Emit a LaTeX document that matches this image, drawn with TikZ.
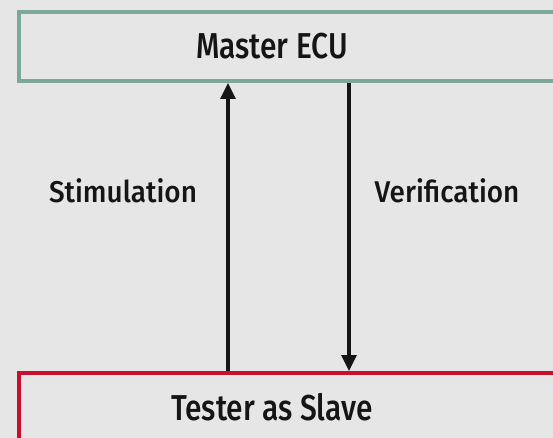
\documentclass[tikz,border=0pt]{standalone}
\usepackage{fontspec}
\setmainfont{Fira Sans Medium}
\newfontfamily\titlefont{Fira Sans Medium}[FakeStretch=0.83]
\newfontfamily\lblfont{Fira Sans Medium}[FakeStretch=0.93]
\usetikzlibrary{arrows.meta}
\definecolor{bg}{HTML}{E6E6E6}
\definecolor{mgreen}{HTML}{7DA898}
\definecolor{sred}{HTML}{C8102E}
\definecolor{ink}{HTML}{151515}
\tikzset{
  boxstyle/.style={draw, line width=4pt, fill=bg, anchor=north west, inner sep=0pt},
  title/.style={text=ink, font=\titlefont\fontsize{36}{40}\selectfont, inner sep=0pt},
  lbl/.style={text=ink, font=\lblfont\fontsize{30}{34}\selectfont, inner sep=0pt},
  arr/.style={draw=ink, line width=3.2pt, -{Triangle[length=16pt,width=15pt]}}
}
\begin{document}
\begin{tikzpicture}[x=1pt,y=-1pt]
\useasboundingbox (0,0) rectangle (553,438);
\fill[bg] (0,0) rectangle (553,438);
\clip (0,0) rectangle (553,438);
\node[boxstyle, draw=mgreen, minimum width=560pt, minimum height=69pt] (master) at (17,10) {};
\node[title] (mastertext) at (272,46) {Master ECU};
\node[boxstyle, draw=sred, minimum width=560pt, minimum height=80pt] (tester) at (17,371) {};
\node[title] (testertext) at (272,407) {Tester as Slave};
\coordinate (xs) at (228,0);
\coordinate (xv) at (349,0);
\draw[arr] (tester.north -| xs) -- (master.south -| xs);
\draw[arr] (master.south -| xv) -- (tester.north -| xv);
\node[lbl] (stim) at (123,191) {Stimulation};
\node[lbl] (verif) at (447,191) {Verification};
\end{tikzpicture}
\end{document}
